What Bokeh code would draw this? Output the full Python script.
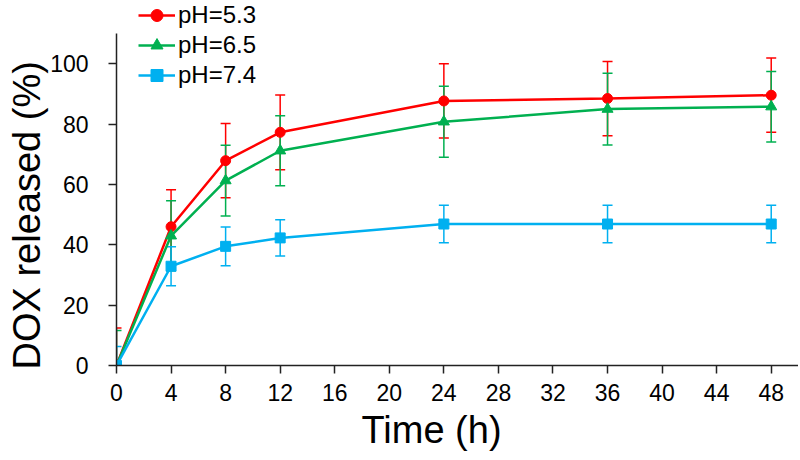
from bokeh.plotting import figure
from bokeh.models import (ColumnDataSource, Whisker, TeeHead, Legend, LegendItem,
                          SingleIntervalTicker, Range1d, Title)
from bokeh.embed import file_html
from bokeh.resources import INLINE

# ---- data ----
time_h = [0, 4, 8, 12, 24, 36, 48]
ph53 = [0, 46.0, 67.9, 77.3, 87.7, 88.5, 89.6]
ph53_err = [12.4, 12.3, 12.3, 12.4, 12.3, 12.3, 12.3]
ph65 = [0, 43.0, 61.3, 71.2, 80.8, 85.0, 85.8]
ph65_err = [11.6, 11.6, 11.7, 11.6, 11.8, 11.9, 11.7]
ph74 = [0, 32.9, 39.5, 42.3, 46.9, 46.9, 46.9]
ph74_err = [6.3, 6.5, 6.4, 6.0, 6.2, 6.2, 6.2]
labels = ["pH=5.3", "pH=6.5", "pH=7.4"]
colors = ["#FF0000", "#00B050", "#00B0F0"]
markers = ["circle", "triangle", "square"]
x_title = "Time (h)"
y_title = "DOX released (%)"

FONT = "Liberation Sans"

p = figure(width=798, height=458, output_backend="svg", toolbar_location=None,
           x_range=Range1d(0, 50), y_range=Range1d(0, 121),
           min_border_left=116, min_border_right=0, min_border_top=0, min_border_bottom=93)
p.outline_line_color = None
p.xgrid.visible = False
p.ygrid.visible = False
p.background_fill_color = "white"

p.xaxis.ticker = SingleIntervalTicker(interval=4)
p.yaxis.ticker = SingleIntervalTicker(interval=20)
p.yaxis.bounds = (0, 110)
for ax in (p.xaxis[0], p.yaxis[0]):
    ax.axis_line_color = "#222222"
    ax.axis_line_width = 1.5
    ax.major_tick_line_color = "#222222"
    ax.major_tick_line_width = 1.5
    ax.major_tick_out = 8
    ax.major_tick_in = 0
    ax.minor_tick_out = 0
    ax.minor_tick_in = 0
    ax.major_label_text_font = FONT
    ax.major_label_text_font_size = "23px"
    ax.major_label_text_color = "black"
p.xaxis.major_label_standoff = 10
p.yaxis.major_label_standoff = 20

# axis titles (offset along the axis like the original)
p.add_layout(Title(text=x_title, text_font=FONT, text_font_size="38px",
                   text_font_style="normal", text_color="black",
                   align="left", offset=245, standoff=6), "below")
p.add_layout(Title(text=y_title, text_font=FONT, text_font_size="38px",
                   text_font_style="normal", text_color="black",
                   align="left", offset=-4, standoff=0), "left")

series = [(ph53, ph53_err), (ph65, ph65_err), (ph74, ph74_err)]
items = []
for (vals, errs), lab, col, mk in zip(series, labels, colors, markers):
    src = ColumnDataSource(dict(x=time_h, y=vals,
                                lo=[v - e for v, e in zip(vals, errs)],
                                hi=[v + e for v, e in zip(vals, errs)]))
    w = Whisker(source=src, base="x", upper="hi", lower="lo",
                line_color=col, line_width=1.5,
                upper_head=TeeHead(size=10, line_color=col, line_width=1.5),
                lower_head=TeeHead(size=10, line_color=col, line_width=1.5))
    p.add_layout(w)
    ln = p.line("x", "y", source=src, line_color=col, line_width=2.5)
    sz = 11 if mk == "triangle" else 10
    sc = p.scatter("x", "y", source=src, marker=mk, size=sz,
                   fill_color=col, line_color=col)
    items.append(LegendItem(label=lab, renderers=[ln, sc]))

legend = Legend(items=items, location=(22, 275), orientation="vertical",
                label_text_font=FONT, label_text_font_size="24px",
                label_text_color="black", glyph_width=37, glyph_height=30,
                label_height=30, spacing=0, padding=0, margin=0,
                label_standoff=3, border_line_color=None,
                background_fill_alpha=0)
p.add_layout(legend, "center")

open("out.html", "w").write(file_html(p, INLINE))
